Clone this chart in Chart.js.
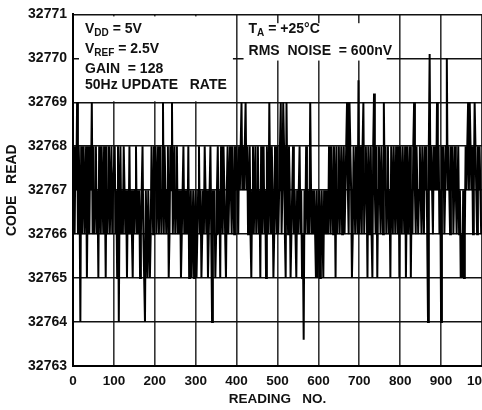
<!DOCTYPE html>
<html>
<head>
<meta charset="utf-8">
<script src="https://cdn.jsdelivr.net/npm/chart.js@4/dist/chart.umd.min.js"></script>
<style>
  html, body { margin: 0; padding: 0; background: #fff; }
  #noiseChart { display: block; }
</style>
</head>
<body>
<canvas id="noiseChart" width="482" height="410"></canvas>
<script>
// Output code for each reading (one value per 2 readings)
const readingStep = 2;
const codeValues = [
  32767,32768,32766,32768,32767,32769,32766,32768,32767,32764,32768,32766,32767,32768,32766,32767,32768,32765,32767,32768,32766,32768,32767,32769,32766,
  32768,32766,32767,32768,32766,32767,32765,32768,32767,32766,32768,32767,32766,32768,32767,32765,32768,32766,32767,32768,32766,32767,32768,32766,32767,
  32767,32768,32766,32767,32765,32768,32764,32767,32768,32766,32767,32766,32768,32767,32766,32767,32765,32767,32766,32768,32766,32767,32766,32765,32767,
  32766,32767,32768,32766,32767,32766,32767,32765,32766,32767,32768,32766,32765,32764,32767,32766,32765,32767,32766,32765,32766,32768,32767,32766,32768,
  32767,32768,32766,32767,32768,32766,32767,32768,32766,32767,32769,32766,32768,32767,32766,32767,32768,32765,32766,32768,32767,32769,32766,32767,32768,
  32766,32767,32768,32766,32767,32766,32767,32765,32766,32767,32768,32766,32767,32766,32767,32766,32768,32765,32766,32767,32765,32766,32767,32765,32766,
  32767,32765,32766,32767,32768,32766,32767,32765,32766,32767,32766,32768,32767,32766,32767,32765,32766,32767,32768,32766,32764,32767,32766,32767,32765,
  32766,32767,32768,32766,32767,32765,32768,32767,32766,32768,32767,32766,32765,32767,32768,32766,32767,32768,32767,32766,32768,32767,32766,32768,32767,
  32768,32767,32766,32768,32767,32768,32769,32767,32768,32767,32768,32769,32767,32768,32766,32767,32768,32766,32765,32767,32768,32766,32767,32768,32766,
  32767,32768,32766,32767,32765,32768,32766,32767,32768,32766,32767,32765,32768,32767,32766,32769,32767,32766,32768,32767,32765,32766,32768,32767,32766,
  32768,32766,32767,32768,32769,32766,32767,32769,32768,32766,32765,32769,32767,32766,32768,32767,32765,32766,32767,32768,32766,32767,32766,32765,32767,
  32766,32767,32768,32766,32767,32765,32766,32763.6,32767,32766,32768,32767,32766,32767,32766,32769,32767,32766,32767,32766,32767,32766,32765,32767,32765,
  32766,32767,32765,32766,32767,32766,32765,32767,32766,32767,32766,32767,32766,32768,32767,32766,32768,32767,32766,32768,32767,32765,32768,32766,32767,
  32768,32766,32767,32768,32766,32767,32768,32766,32767,32768,32769,32767,32766,32769,32768,32767,32765,32766,32768,32767,32766,32768,32767,32766,32769.5,
  32766,32768,32767,32766,32768,32769,32766,32767,32768,32767,32765,32768,32766,32767,32768,32766,32765,32768,32769.2,32767,32766,32768,32765,32767,32768,
  32767,32766,32768,32767,32766,32769,32767,32768,32766,32767,32768,32766,32767,32765,32768,32767,32766,32768,32767,32766,32768,32767,32766,32768,32765,
  32768,32767,32766,32768,32767,32766,32768,32765,32767,32768,32766,32767,32768,32765,32767,32766,32768,32769,32767,32766,32768,32767,32766,32767,32768,
  32767,32766,32768,32767,32766,32768,32767,32768,32766,32764,32768,32770.1,32767,32768,32767,32766,32768,32767,32768,32767,32769,32767,32768,32766,32767,
  32764,32768,32767,32768,32766,32767,32768,32770,32767,32768,32767,32766,32768,32767,32768,32766,32767,32768,32767,32766,32767,32768,32766,32767,32765,
  32766,32765,32767,32765,32766,32768,32767,32768,32769,32767,32769,32768,32767,32768,32766,32767,32769,32768,32767,32766,32768,32767,32768,32767,32766
];

const xTicks = [0, 100, 200, 300, 400, 500, 600, 700, 800, 900, 1000];
const yTicks = [32763, 32764, 32765, 32766, 32767, 32768, 32769, 32770, 32771];

const leftNotes = [
  [['V', false], ['DD', true], [' = 5V', false]],
  [['V', false], ['REF', true], [' = 2.5V', false]],
  [['GAIN  = 128', false]],
  [['50Hz UPDATE   RATE', false]]
];
const leftBaselines = [33, 53, 73, 89];
const rightNotes = [
  [['T', false], ['A', true], [' = +25°C', false]],
  [['RMS  NOISE  = 600nV', false]]
];
const rightBaselines = [33, 55];

const FONT = '"Liberation Sans", Arial, sans-serif';

function drawNoteLine(ctx, parts, x, y) {
  let cx = x;
  parts.forEach(([text, isSub]) => {
    ctx.font = isSub ? `bold 10px ${FONT}` : `bold 14px ${FONT}`;
    ctx.fillText(text, cx, isSub ? y + 3 : y);
    cx += ctx.measureText(text).width;
  });
}

// white label boxes sitting over the grid, under the trace
const noteBoxes = {
  id: 'noteBoxes',
  beforeDatasetsDraw(chart) {
    const { ctx, scales: { x, y } } = chart;
    ctx.save();
    ctx.fillStyle = '#fff';
    const l1 = x.left + 6, r1 = x.getPixelForValue(391);
    const t1 = y.getPixelForValue(32771) + 2, b1 = y.getPixelForValue(32769) - 1;
    ctx.fillRect(l1, t1, r1 - l1, b1 - t1);
    const l2 = x.getPixelForValue(417), r2 = x.getPixelForValue(767);
    const t2 = y.getPixelForValue(32770.8), b2 = y.getPixelForValue(32769.95);
    ctx.fillRect(l2, t2, r2 - l2, b2 - t2);

    ctx.fillStyle = '#111';
    ctx.textAlign = 'left';
    ctx.textBaseline = 'alphabetic';
    leftNotes.forEach((parts, i) => drawNoteLine(ctx, parts, x.left + 12, leftBaselines[i]));
    rightNotes.forEach((parts, i) => drawNoteLine(ctx, parts, l2 + 5, rightBaselines[i]));
    ctx.restore();
  }
};

const points = codeValues.map((v, i) => ({ x: i * readingStep, y: v }));

new Chart(document.getElementById('noiseChart').getContext('2d'), {
  type: 'line',
  data: {
    datasets: [{
      data: points,
      borderColor: '#000',
      borderWidth: 2,
      pointRadius: 0,
      tension: 0,
      fill: false
    }]
  },
  options: {
    responsive: false,
    animation: false,
    layout: { padding: { top: 12, right: 0, left: 0, bottom: 0 } },
    plugins: {
      legend: { display: false },
      tooltip: { enabled: false }
    },
    scales: {
      x: {
        type: 'linear',
        min: 0,
        max: 1000,
        afterBuildTicks: (scale) => { scale.ticks = xTicks.map(v => ({ value: v })); },
        afterFit: (scale) => { scale.height = 44; scale.paddingRight = 0; scale.paddingLeft = 0; },
        ticks: {
          color: '#111',
          font: { family: FONT, size: 13.5, weight: 'bold' },
          padding: 7,
          maxRotation: 0,
          autoSkip: false,
          callback: (v) => String(v)
        },
        grid: { color: '#333', lineWidth: 1.6, drawTicks: false },
        border: { color: '#000', width: 2 },
        title: {
          display: true,
          text: 'READING   NO.',
          color: '#111',
          font: { family: FONT, size: 13.5, weight: 'bold' },
          padding: { top: 0, bottom: 3 }
        }
      },
      y: {
        min: 32763,
        max: 32771,
        afterBuildTicks: (scale) => { scale.ticks = yTicks.map(v => ({ value: v })); },
        afterFit: (scale) => { scale.width = 73; },
        ticks: {
          color: '#111',
          font: { family: FONT, size: 14, weight: 'bold' },
          padding: 6,
          callback: (v) => String(v)
        },
        grid: { color: '#111', lineWidth: 1.6, drawTicks: false },
        border: { color: '#000', width: 2 },
        title: {
          display: true,
          text: 'CODE   READ',
          color: '#111',
          font: { family: FONT, size: 14, weight: 'bold' },
          padding: { top: 4, bottom: 0 }
        }
      }
    }
  },
  plugins: [noteBoxes]
});
</script>
</body>
</html>
